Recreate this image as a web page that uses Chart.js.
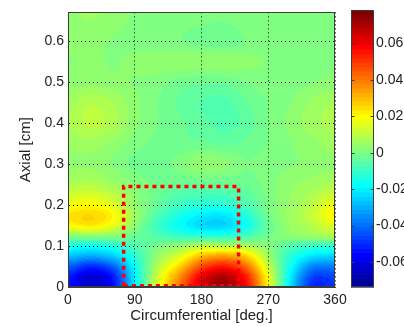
<!DOCTYPE html>
<html>
<head>
<meta charset="utf-8">
<title>Axial / circumferential map</title>
<script src="https://cdn.jsdelivr.net/npm/chart.js@4/dist/chart.umd.min.js"></script>
<style>
  html, body { margin: 0; background: #fff; }
  #wrap { position: relative; width: 404px; height: 326px; }
  #wrap canvas { position: absolute; left: 0; top: 0; }
</style>
</head>
<body>
<div id="wrap">
  <canvas id="map" width="404" height="326"></canvas>
  <canvas id="cbar" width="404" height="326"></canvas>
</div>
<script>
// grid of measured values: columns = circumferential position, rows = axial position
const circumferential = [0, 30, 60, 90, 120, 150, 180, 210, 240, 270, 300, 330, 360];
const axial = [0, 0.025, 0.05, 0.075, 0.1, 0.125, 0.15, 0.175, 0.2, 0.25, 0.3, 0.35, 0.4, 0.45, 0.5, 0.55, 0.6, 0.67];

const row000 = [-0.054, -0.064, -0.055, -0.020, 0.014, 0.040, 0.064, 0.074, 0.058, 0.020, -0.022, -0.050, -0.048];
const row025 = [-0.052, -0.062, -0.053, -0.020, 0.012, 0.036, 0.060, 0.070, 0.054, 0.018, -0.020, -0.046, -0.046];
const row050 = [-0.042, -0.050, -0.042, -0.017, 0.008, 0.026, 0.047, 0.055, 0.042, 0.012, -0.016, -0.036, -0.037];
const row075 = [-0.027, -0.031, -0.026, -0.012, 0.004, 0.015, 0.030, 0.035, 0.027, 0.006, -0.012, -0.022, -0.024];
const row100 = [-0.014, -0.016, -0.013, -0.007, 0.000, 0.004, 0.010, 0.010, 0.008, 0.002, -0.006, -0.010, -0.010];
const row125 = [0.002, 0.003, 0.002, -0.002, -0.006, -0.010, -0.012, -0.012, -0.008, -0.001, 0.003, 0.005, 0.008];
const row150 = [0.020, 0.023, 0.017, 0.003, -0.009, -0.017, -0.023, -0.024, -0.016, -0.003, 0.005, 0.009, 0.016];
const row175 = [0.024, 0.026, 0.021, 0.006, -0.006, -0.014, -0.020, -0.021, -0.013, -0.001, 0.006, 0.012, 0.022];
const row200 = [0.018, 0.020, 0.015, 0.004, -0.003, -0.009, -0.012, -0.012, -0.007, 0.000, 0.005, 0.010, 0.018];
const row250 = [0.008, 0.009, 0.006, 0.002, -0.001, -0.003, -0.003, -0.003, -0.002, 0.001, 0.004, 0.006, 0.008];
const row300 = [0.004, 0.004, 0.002, -0.001, -0.002, 0.001, 0.004, 0.003, 0.000, 0.001, 0.002, 0.003, 0.004];
const row350 = [0.005, 0.006, 0.004, 0.001, -0.001, -0.002, -0.002, -0.003, -0.002, 0.000, 0.002, 0.004, 0.006];
const row400 = [0.007, 0.010, 0.008, 0.003, 0.000, -0.002, -0.004, -0.006, -0.004, 0.000, 0.003, 0.006, 0.008];
const row450 = [0.006, 0.009, 0.007, 0.003, 0.000, -0.003, -0.005, -0.006, -0.003, 0.000, 0.002, 0.005, 0.007];
const row500 = [0.003, 0.004, 0.003, 0.002, 0.001, -0.001, -0.002, -0.002, 0.000, 0.001, 0.001, 0.002, 0.003];
const row550 = [0.002, 0.003, 0.002, 0.003, 0.004, 0.004, 0.004, 0.004, 0.003, 0.002, 0.001, 0.001, 0.002];
const row600 = [0.003, 0.003, 0.002, 0.001, 0.000, 0.000, -0.001, -0.002, 0.000, 0.001, 0.001, 0.001, 0.002];
const row670 = [0.004, 0.005, 0.004, 0.002, 0.001, 0.001, 0.001, 0.001, 0.002, 0.002, 0.001, 0.001, 0.001];
const field = [row000, row025, row050, row075, row100, row125, row150, row175, row200,
               row250, row300, row350, row400, row450, row500, row550, row600, row670];

const colorLimits = [-0.0737, 0.0781];
const axialMax = 0.67;
const xTicks = [0, 90, 180, 270, 360];
const yTicks = [0, 0.1, 0.2, 0.3, 0.4, 0.5, 0.6];
const cbarTicks = [-0.06, -0.04, -0.02, 0, 0.02, 0.04, 0.06];

// dotted box marking the zone of interest
const zoneCirc = [75, 230];
const zoneAxial = [0.003, 0.245];

const FONT = "'Liberation Sans', Arial, Helvetica, sans-serif";
const TEXT = '#222';
const FRAME = '#3c3c3c';

// 64-step jet colormap
const LEVELS = 64;
function jet(t) {
    const c = v => Math.max(0, Math.min(1, v));
    return [
        Math.round(255 * c(Math.min(4 * t - 1.5, -4 * t + 4.5))),
        Math.round(255 * c(Math.min(4 * t - 0.5, -4 * t + 3.5))),
        Math.round(255 * c(Math.min(4 * t + 0.5, -4 * t + 2.5)))
    ];
}
const palette = [];
for (let k = 0; k < LEVELS; k++) palette.push(jet((k + 1) / LEVELS));

function colorFor(v) {
    const [lo, hi] = colorLimits;
    let k = Math.floor((v - lo) / (hi - lo) * LEVELS);
    k = Math.max(0, Math.min(LEVELS - 1, k));
    return palette[k];
}

function fracIndex(arr, v) {
    if (v <= arr[0]) return 0;
    const n = arr.length - 1;
    if (v >= arr[n]) return n;
    let i = 0;
    while (v > arr[i + 1]) i++;
    return i + (v - arr[i]) / (arr[i + 1] - arr[i]);
}

function catmull(p0, p1, p2, p3, t) {
    return 0.5 * (2 * p1 + (-p0 + p2) * t + (2 * p0 - 5 * p1 + 4 * p2 - p3) * t * t +
        (-p0 + 3 * p1 - 3 * p2 + p3) * t * t * t);
}

function sampleField(c, a) {
    const fx = fracIndex(circumferential, c);
    const fy = fracIndex(axial, a);
    const ix = Math.floor(fx), iy = Math.floor(fy);
    const tx = fx - ix, ty = fy - iy;
    const nc = circumferential.length - 1, nr = axial.length - 1;
    const ci = k => Math.max(0, Math.min(nc, k));
    const ri = k => Math.max(0, Math.min(nr, k));
    const cols = [];
    for (let m = -1; m <= 2; m++) {
        const r = field[ri(iy + m)];
        cols.push(catmull(r[ci(ix - 1)], r[ci(ix)], r[ci(ix + 1)], r[ci(ix + 2)], tx));
    }
    return catmull(cols[0], cols[1], cols[2], cols[3], ty);
}

// filled contour map, painted under the grid
const heatmapPlugin = {
    id: 'heatmap',
    beforeDraw(chart) {
        const { ctx, chartArea: a, scales: { x, y } } = chart;
        const left = Math.round(a.left), top = Math.round(a.top);
        const w = Math.round(a.right) - left, h = Math.round(a.bottom) - top;
        const off = document.createElement('canvas');
        off.width = w; off.height = h;
        const octx = off.getContext('2d');
        const img = octx.createImageData(w, h);
        for (let j = 0; j < h; j++) {
            const av = y.getValueForPixel(top + j + 0.5);
            for (let i = 0; i < w; i++) {
                const cv = x.getValueForPixel(left + i + 0.5);
                const col = colorFor(sampleField(cv, av));
                const p = (j * w + i) * 4;
                img.data[p] = col[0]; img.data[p + 1] = col[1]; img.data[p + 2] = col[2]; img.data[p + 3] = 255;
            }
        }
        octx.putImageData(img, 0, 0);
        ctx.drawImage(off, left, top);
    }
};

const framePlugin = {
    id: 'frame',
    afterDatasetsDraw(chart) {
        const { ctx, chartArea: a } = chart;
        ctx.save();
        ctx.strokeStyle = FRAME;
        ctx.lineWidth = 1;
        ctx.strokeRect(Math.round(a.left) + 0.5, Math.round(a.top) + 0.5,
            Math.round(a.right - a.left) - 1, Math.round(a.bottom - a.top) - 1);
        ctx.restore();
    }
};

const zonePath = [
    { x: zoneCirc[0], y: zoneAxial[0] },
    { x: zoneCirc[0], y: zoneAxial[1] },
    { x: zoneCirc[1], y: zoneAxial[1] },
    { x: zoneCirc[1], y: zoneAxial[0] },
    { x: zoneCirc[0], y: zoneAxial[0] }
];

const tickFont = { family: FONT, size: 14 };
const titleFont = { family: FONT, size: 15 };
const fmt = v => String(+v.toFixed(2));

new Chart(document.getElementById('map'), {
    type: 'scatter',
    data: {
        datasets: [{
            data: zonePath,
            showLine: true,
            borderColor: '#ff0000',
            borderWidth: 3.5,
            borderDash: [4, 4],
            pointRadius: 0,
            fill: false
        }]
    },
    options: {
        responsive: false,
        animation: false,
        devicePixelRatio: 1,
        events: [],
        layout: { padding: { left: 0, top: 10, right: 69, bottom: 0 } },
        plugins: { legend: { display: false }, tooltip: { enabled: false } },
        scales: {
            x: {
                type: 'linear',
                min: 0,
                max: 360,
                afterBuildTicks: s => { s.ticks = xTicks.map(v => ({ value: v })); },
                afterFit: s => { s.height = 39; },
                grid: { color: '#000', lineWidth: 1, drawTicks: false },
                border: { color: FRAME, dash: [1, 3] },
                ticks: { padding: 5, font: tickFont, color: TEXT, maxRotation: 0, callback: fmt },
                title: { display: true, text: 'Circumferential [deg.]', font: titleFont, color: TEXT, padding: { top: 0, bottom: 1 } }
            },
            y: {
                type: 'linear',
                min: 0,
                max: axialMax,
                afterBuildTicks: s => { s.ticks = yTicks.map(v => ({ value: v })); },
                afterFit: s => { s.width = 68; },
                grid: { color: '#000', lineWidth: 1, drawTicks: false },
                border: { color: FRAME, dash: [1, 3] },
                ticks: { padding: 4, font: tickFont, color: TEXT, callback: fmt },
                title: { display: true, text: 'Axial [cm]', font: titleFont, color: TEXT, padding: { top: 17, bottom: 0 } }
            }
        }
    },
    plugins: [heatmapPlugin, framePlugin]
});

// colour bar, one band per colormap level
const colorbarPlugin = {
    id: 'colorbar',
    beforeDraw(chart) {
        const { ctx, chartArea: a, scales: { y } } = chart;
        const [lo, hi] = colorLimits;
        const step = (hi - lo) / LEVELS;
        for (let k = 0; k < LEVELS; k++) {
            const y0 = y.getPixelForValue(lo + k * step);
            const y1 = y.getPixelForValue(lo + (k + 1) * step);
            const c = palette[k];
            ctx.fillStyle = `rgb(${c[0]},${c[1]},${c[2]})`;
            ctx.fillRect(a.left, y1, a.right - a.left, y0 - y1 + 0.6);
        }
    },
    afterDraw(chart) {
        const { ctx, chartArea: a, scales: { y } } = chart;
        ctx.save();
        ctx.strokeStyle = FRAME;
        ctx.lineWidth = 1;
        const l = Math.round(a.left) + 0.5, r = Math.round(a.right) - 0.5;
        ctx.beginPath();
        cbarTicks.forEach(v => {
            const py = Math.round(y.getPixelForValue(v)) + 0.5;
            ctx.moveTo(l, py); ctx.lineTo(l + 3, py);
            ctx.moveTo(r, py); ctx.lineTo(r - 3, py);
        });
        ctx.stroke();
        ctx.strokeRect(l, Math.round(a.top) + 0.5, r - l, Math.round(a.bottom - a.top) - 1);
        ctx.restore();
    }
};

new Chart(document.getElementById('cbar'), {
    type: 'scatter',
    data: { datasets: [] },
    options: {
        responsive: false,
        animation: false,
        devicePixelRatio: 1,
        events: [],
        layout: { padding: { left: 351, top: 10, right: 0, bottom: 39 } },
        plugins: { legend: { display: false }, tooltip: { enabled: false } },
        scales: {
            x: { display: false, min: 0, max: 1 },
            y: {
                position: 'right',
                min: colorLimits[0],
                max: colorLimits[1],
                afterBuildTicks: s => { s.ticks = cbarTicks.map(v => ({ value: v })); },
                afterFit: s => { s.width = 30; },
                grid: { display: false, drawTicks: false },
                border: { display: false },
                ticks: { padding: 2, font: tickFont, color: TEXT, callback: fmt }
            }
        }
    },
    plugins: [colorbarPlugin]
});
</script>
</body>
</html>
